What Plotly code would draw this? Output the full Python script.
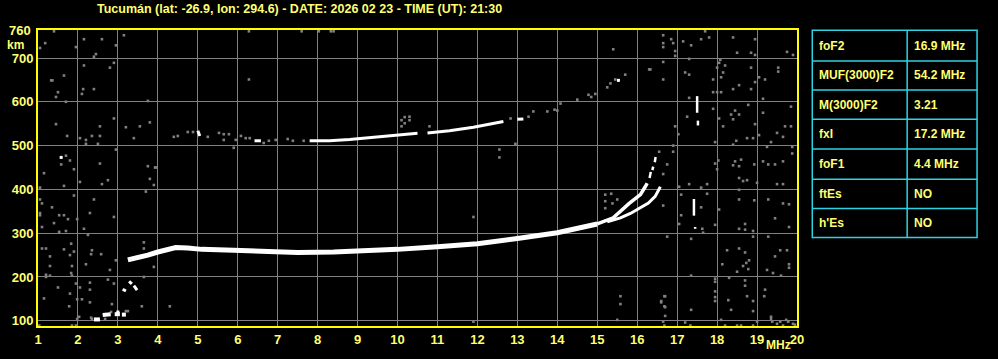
import plotly.graph_objects as go

# ---------------- data (frequency in MHz, virtual height in km) ----------------
TITLE = "Tucumán (lat: -26.9, lon: 294.6) - DATE: 2026 02 23 - TIME (UT): 21:30"

X_TICKS = list(range(1, 21))
Y_TICKS = [100, 200, 300, 400, 500, 600, 700]

# F2 ordinary trace (thick part, then thinner upper part)
F_O_FREQ = [3.25, 3.5, 3.75, 4.0, 4.2, 4.45, 4.75, 5.1, 5.9, 6.75, 7.5, 8.4, 9.2, 10.0,
            11.0, 12.0, 13.0, 14.0, 14.6, 15.0]
F_O_HEIGHT = [239, 244, 250, 257, 262, 267, 266, 263, 261, 257, 256, 257, 259, 263,
              269, 276, 288, 301, 313, 321]
F_O_TOP_FREQ = [15.0, 15.4, 15.8, 16.08, 16.2, 16.25]
F_O_TOP_HEIGHT = [321, 335, 368, 388, 406, 414]
# dashes near the o-mode cusp
CUSP_FREQ = [16.31, 16.34, None, 16.38, 16.40, None, 16.44, 16.46]
CUSP_HEIGHT = [426, 440, None, 444, 452, None, 462, 474]

# F2 extraordinary trace
F_X_FREQ = [15.25, 15.58, 15.83, 16.08, 16.28, 16.45, 16.58]
F_X_HEIGHT = [326, 335, 345, 358, 369, 384, 406]

# second-hop F echo (white parts)
F2_HOP_FREQ = [5.0, 5.05, None, 6.42, 6.58, None,
               7.8, 8.3, 8.8, 9.3, 9.8, 10.1, 10.5, None,
               10.75, 11.3, 11.9, 12.3, 12.65, None, 13.0, 13.15]
F2_HOP_HEIGHT = [534, 522, None, 511, 511, None,
                 511, 511, 514, 518, 522, 525, 528, None,
                 529, 534, 542, 549, 555, None, 560, 561]

# low-frequency E-region bits
E_LOW_FREQ = [2.4, 2.55, None, 2.62, 2.82, None, 2.92, 3.05, None, 3.1, 3.2]
E_LOW_HEIGHT = [103, 103, None, 113, 115, None, 115, 115, None, 114, 114]
E_MID_FREQ = [3.12, 3.2, None, 3.28, 3.35, None, 3.4, 3.48]
E_MID_HEIGHT = [172, 168, None, 190, 184, None, 180, 170]

# spurious vertical echoes near 17.5 MHz
SPUR_FREQ = [17.5, 17.5, None, 17.52, 17.52, None, 17.42, 17.42, None, 17.45, 17.45]
SPUR_HEIGHT = [575, 613, None, 546, 557, None, 340, 378, None, 310, 314]

# isolated white pixels
WHITE_DOTS = [(1.58, 473), (15.53, 649), (3.0, 120)]

# gray interference / noise points
NOISE_LEFT = [
    (1.4, 761), (1.18, 734), (1.05, 723), (1.95, 725), (2.15, 743), (2.6, 743), (3.15, 752),
    (2.95, 729), (2.4, 703), (2.45, 709), (2.9, 689), (2.8, 678), (2.15, 683), (1.65, 660),
    (1.33, 649), (1.36, 649), (2.13, 629), (2.1, 618), (2.4, 629), (1.5, 622), (1.45, 611),
    (1.7, 600), (3.75, 602), (2.9, 562), (1.45, 549), (2.55, 544), (3.2, 542), (3.55, 544),
    (3.8, 553), (1.73, 522), (2.05, 517), (2.35, 522), (2.55, 522), (2.2, 513), (2.2, 504),
    (2.5, 504), (3.4, 517), (2.95, 491), (1.58, 457), (1.7, 477), (1.8, 466), (1.15, 437),
    (1.9, 446), (2.55, 459), (2.05, 417), (1.65, 408), (2.75, 421), (2.6, 412), (3.75, 453),
    (3.8, 424), (3.95, 450), (3.9, 410), (3.7, 395), (1.05, 404), (1.05, 377), (1.1, 368),
    (1.35, 359), (1.9, 386), (2.4, 377), (1.05, 341), (1.05, 346), (1.1, 314), (1.53, 341),
    (1.65, 341), (1.75, 332), (1.4, 323), (2.15, 310), (2.3, 346), (2.9, 337), (1.7, 305),
    (1.53, 303), (1.98, 332), (1.83, 276), (2.25, 296), (1.1, 265), (1.2, 265), (1.3, 247),
    (1.65, 263), (1.8, 250), (1.9, 258), (2.35, 261), (2.33, 252), (2.58, 252), (2.2, 229),
    (2.8, 216), (2.95, 238), (3.65, 279), (3.65, 265), (3.9, 223), (1.3, 225), (1.85, 225),
    (1.83, 209), (1.2, 205), (1.3, 203), (1.5, 176), (2.05, 176), (1.95, 185), (2.3, 187),
    (2.3, 171), (2.9, 185), (2.75, 194), (1.8, 162), (1.98, 149), (2.1, 149), (2.3, 142),
    (1.15, 151), (1.78, 133), (2.85, 138), (3.6, 133), (4.3, 133), (1.98, 104), (2.35, 104),
    (2.68, 104), (3.2, 122), (1.2, 200), (1.85, 203), (3.65, 200), (2.03, 109), (2.33, 107),
    (2.83, 120), (3.25, 122), (1.03, 89), (1.85, 89), (1.95, 89), (3.93, 450),
]
NOISE_MID = [
    (6.28, 761), (7.6, 761), (8.03, 761), (8.33, 761), (8.4, 761), (6.28, 651), (5.9, 495),
    (10.1, 558), (10.18, 565), (10.3, 566), (10.3, 558), (10.18, 551), (10.1, 544), (10.8, 544),
    (12.55, 491), (12.55, 473), (12.95, 504), (15.4, 720), (16.3, 674), (11.9, 337),
    (15.2, 388), (15.2, 373), (15.2, 357), (15.35, 390), (15.5, 377), (15.38, 368),
    (11.9, 98), (15.58, 156), (15.58, 138), (15.5, 102),
    # faint parts of the second-hop echo
    (4.4, 520), (4.5, 522), (4.75, 531), (4.88, 531), (5.25, 520), (5.53, 529), (5.65, 526),
    (5.78, 526), (5.65, 513), (5.95, 513), (6.08, 522), (6.2, 517), (6.3, 517), (6.65, 506),
    (6.78, 511), (6.95, 513), (7.25, 515), (7.38, 511), (7.65, 511), (12.83, 562),
    (13.28, 566), (13.4, 578), (13.75, 578), (13.93, 582), (14.0, 580), (14.08, 596),
    (14.5, 605), (14.78, 616), (14.85, 611), (14.95, 618), (15.25, 633), (15.33, 642),
    (15.45, 651), (15.7, 662),
]
NOISE_RIGHT = [
    (16.65, 752), (16.65, 734), (16.65, 725), (16.85, 743), (16.9, 734), (16.95, 716),
    (16.95, 705), (17.15, 738), (17.35, 729), (17.6, 743), (17.7, 761), (17.8, 747),
    (18.4, 747), (18.95, 743), (18.5, 712), (18.85, 712), (18.95, 707), (19.75, 714),
    (19.9, 707), (16.65, 691), (17.3, 698), (16.33, 674), (17.2, 667), (17.3, 662),
    (18.08, 696), (18.05, 689), (18.2, 683), (18.15, 667), (18.1, 656), (17.9, 651),
    (18.0, 678), (16.65, 651), (18.85, 678), (19.05, 656), (19.2, 651), (19.53, 678),
    (19.53, 669), (18.95, 645), (18.55, 638), (18.4, 629), (18.85, 629), (17.9, 622),
    (18.0, 622), (18.1, 622), (17.3, 609), (19.15, 607), (18.78, 593), (17.9, 584),
    (18.45, 580), (18.35, 571), (18.55, 571), (18.4, 560), (17.25, 566), (19.15, 575),
    (19.85, 589), (18.05, 562), (16.95, 544), (17.03, 526), (18.15, 544), (18.95, 549),
    (19.7, 544), (19.85, 544), (19.5, 529), (18.75, 517), (18.9, 517), (19.05, 524),
    (18.48, 511), (18.4, 502), (17.95, 508), (19.65, 520), (19.88, 497), (19.35, 508),
    (19.25, 497), (16.9, 500), (16.9, 486), (16.55, 486), (16.75, 457), (17.95, 459),
    (18.0, 446), (18.03, 466), (18.45, 464), (18.4, 455), (18.6, 468), (18.55, 453),
    (18.93, 457), (19.15, 464), (19.28, 457), (19.45, 457), (19.65, 464), (19.88, 482),
    (16.65, 435), (18.55, 426), (18.65, 419), (18.75, 421), (19.0, 415), (19.5, 412),
    (19.65, 412), (17.3, 412), (17.6, 404), (17.75, 412), (17.05, 406), (18.55, 399),
    (17.75, 390), (17.1, 388), (16.65, 363), (17.6, 359), (18.05, 354), (18.55, 377),
    (18.93, 375), (19.28, 377), (19.65, 368), (19.8, 366), (17.1, 341), (19.45, 334),
    (17.05, 321), (17.95, 319), (18.7, 321), (17.63, 310), (17.65, 301), (18.55, 310),
    (18.7, 308), (18.9, 305), (19.8, 314), (16.75, 292), (17.35, 287), (18.9, 292),
    (19.28, 292), (18.55, 265), (18.25, 261), (18.7, 256), (19.45, 247), (19.58, 261),
    (19.75, 261), (18.13, 229), (18.65, 225), (18.73, 232), (18.8, 238), (18.78, 218),
    (18.5, 212), (19.25, 216), (19.4, 209), (19.6, 203), (19.8, 229), (19.8, 221),
    (17.35, 203), (17.95, 196), (17.95, 189), (17.95, 167), (17.95, 154), (17.95, 145),
    (18.3, 198), (18.7, 192), (18.7, 180), (19.2, 171), (19.18, 156), (18.75, 156),
    (18.9, 145), (18.9, 122), (18.28, 147), (18.35, 125), (16.7, 156), (16.6, 145),
    (16.7, 131), (16.7, 111), (17.35, 125), (19.35, 104), (19.38, 98), (19.58, 98),
    (19.73, 102), (19.78, 98), (18.1, 102), (19.0, 98), (16.65, 98), (16.68, 89),
    (17.2, 96), (17.33, 89), (18.2, 89), (18.5, 89), (18.6, 89), (18.9, 89), (19.35, 109),
    (19.5, 93), (19.65, 89), (19.9, 93), (19.95, 91), (16.68, 156), (16.68, 133), (16.6, 142),
]

TABLE_LABELS = ["foF2", "MUF(3000)F2", "M(3000)F2", "fxI", "foF1", "ftEs", "h'Es"]
TABLE_VALUES = ["16.9 MHz", "54.2 MHz", "3.21", "17.2 MHz", "4.4 MHz", "NO", "NO"]

# ---------------- styling ----------------
YELLOW = "#FFFF00"
TEXT_YELLOW = "#FFFF70"
GRID = "#808080"
NOISE = "#808080"
CYAN = "#2ED3E3"
FONT = "Liberation Sans"

# plot area in pixels (page is 998 x 359)
L, R, T, B = 37, 797, 30, 333


def px_x(px):
    return (px - L) / (R - L)


def px_y(py):
    return (B - py) / (B - T)


fig = go.Figure()


def add_line(fx, hy, width, color="white"):
    fig.add_trace(go.Scatter(x=fx, y=hy, mode="lines", line=dict(color=color, width=width),
                             hoverinfo="skip", showlegend=False))


def add_points(points, color, size):
    fig.add_trace(go.Scatter(x=[p[0] for p in points], y=[p[1] for p in points], mode="markers",
                             marker=dict(symbol="square", size=size, color=color,
                                         line=dict(width=0)),
                             hoverinfo="skip", showlegend=False))


add_points(NOISE_LEFT + NOISE_MID + NOISE_RIGHT, NOISE, 2.6)
add_line(F2_HOP_FREQ, F2_HOP_HEIGHT, 3)
add_line(F_O_FREQ, F_O_HEIGHT, 5)
add_line(F_O_TOP_FREQ, F_O_TOP_HEIGHT, 3.5)
add_line(CUSP_FREQ, CUSP_HEIGHT, 2.5)
add_line(F_X_FREQ, F_X_HEIGHT, 3)
add_line(E_LOW_FREQ, E_LOW_HEIGHT, 4)
add_line(E_MID_FREQ, E_MID_HEIGHT, 3)
add_line(SPUR_FREQ, SPUR_HEIGHT, 2.5)
add_points(WHITE_DOTS, "white", 3)

axis_common = dict(
    showgrid=True, gridcolor=GRID, gridwidth=1, zeroline=False,
    showline=True, linecolor=YELLOW, linewidth=2, mirror=True,
    ticks="", tickfont=dict(family=FONT, size=13, color=TEXT_YELLOW, weight="bold"),
    fixedrange=True,
)

fig.update_xaxes(range=[1, 20], tickmode="array", tickvals=X_TICKS,
                 ticktext=[str(v) for v in X_TICKS], **axis_common)
fig.update_yaxes(range=[88, 764], tickmode="array", tickvals=Y_TICKS,
                 ticktext=[str(v) for v in Y_TICKS], **axis_common)

annotations = [
    dict(text=TITLE, x=px_x(94), y=px_y(8), xanchor="left", yanchor="middle",
         font=dict(family=FONT, size=12.5, color=TEXT_YELLOW, weight="bold")),
    dict(text="760", x=px_x(32), y=px_y(30), xanchor="right", yanchor="middle",
         font=dict(family=FONT, size=13, color=TEXT_YELLOW, weight="bold")),
    dict(text="km", x=px_x(14), y=px_y(45.5), xanchor="center", yanchor="middle",
         font=dict(family=FONT, size=12, color=TEXT_YELLOW, weight="bold")),
    dict(text="MHz", x=px_x(778), y=px_y(352), xanchor="center", yanchor="middle",
         font=dict(family=FONT, size=12, color=TEXT_YELLOW, weight="bold")),
]

shapes = []
row_edges = [30.3, 61.7, 91.3, 121.3, 151.7, 182.7, 212.7, 242.3]
tx0, tmid, tx1 = 812.3, 907.3, 977.3
shapes.append(dict(type="rect", xref="paper", yref="paper",
                   x0=px_x(tx0), x1=px_x(tx1), y0=px_y(row_edges[-1]), y1=px_y(row_edges[0]),
                   line=dict(color=CYAN, width=1.5)))
for e in row_edges[1:-1]:
    shapes.append(dict(type="line", xref="paper", yref="paper",
                       x0=px_x(tx0), x1=px_x(tx1), y0=px_y(e), y1=px_y(e),
                       line=dict(color=CYAN, width=1.5)))
shapes.append(dict(type="line", xref="paper", yref="paper",
                   x0=px_x(tmid), x1=px_x(tmid), y0=px_y(row_edges[-1]), y1=px_y(row_edges[0]),
                   line=dict(color=CYAN, width=1.5)))

for i, (lab, val) in enumerate(zip(TABLE_LABELS, TABLE_VALUES)):
    yc = (row_edges[i] + row_edges[i + 1]) / 2
    annotations.append(dict(text=lab, x=px_x(817), y=px_y(yc), xanchor="left", yanchor="middle",
                            font=dict(family=FONT, size=12, color=TEXT_YELLOW, weight="bold")))
    annotations.append(dict(text=val, x=px_x(912), y=px_y(yc), xanchor="left", yanchor="middle",
                            font=dict(family=FONT, size=12, color=TEXT_YELLOW, weight="bold")))

for a in annotations:
    a.update(xref="paper", yref="paper", showarrow=False)

fig.update_layout(
    width=998, height=359,
    margin=dict(l=L, r=998 - R, t=T, b=359 - B, pad=0),
    paper_bgcolor="black", plot_bgcolor="black",
    annotations=annotations, shapes=shapes,
    showlegend=False,
)

fig.write_html("out.html", config={"displayModeBar": False})
